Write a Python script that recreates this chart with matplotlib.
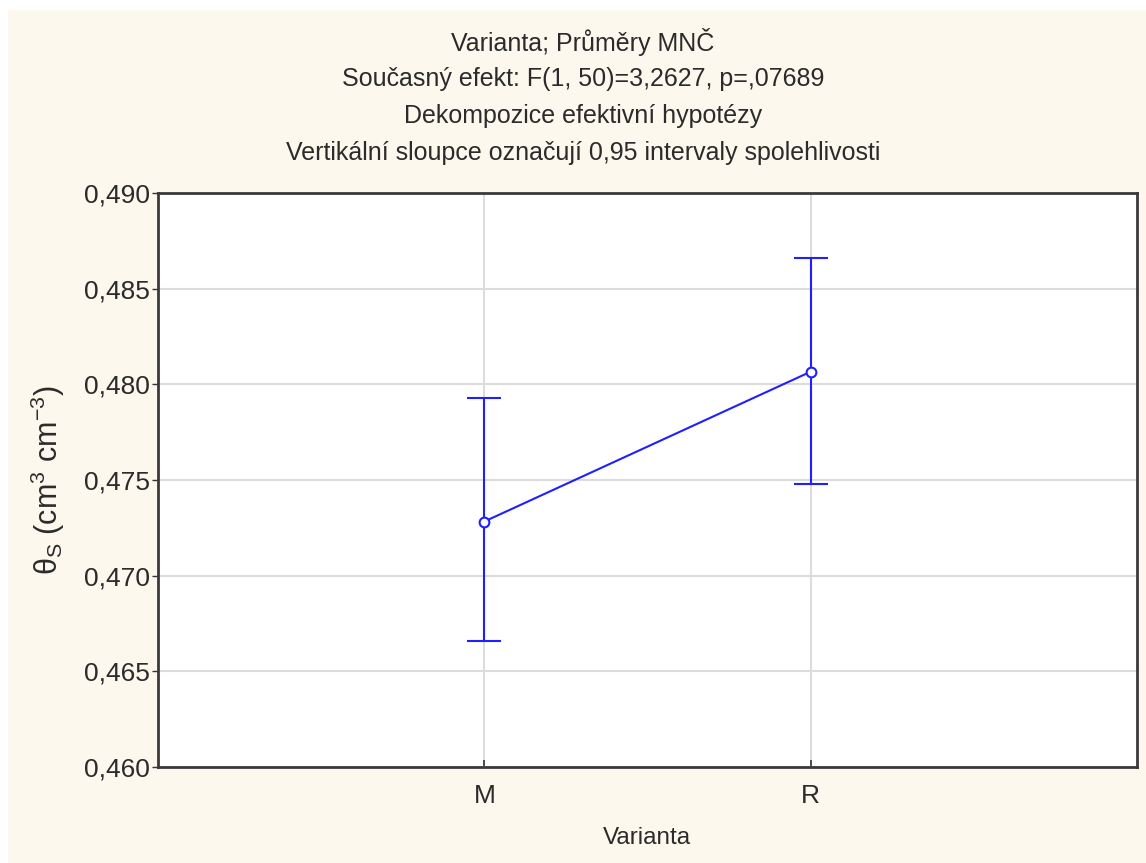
import matplotlib
matplotlib.use("Agg")
import matplotlib.pyplot as plt
from matplotlib.patches import Rectangle

# group means with 0.95 confidence limits
categories = ["M", "R"]
means = [0.47283, 0.48066]
ci_low = [0.46657, 0.47477]
ci_high = [0.47930, 0.48661]

yticks = [0.460, 0.465, 0.470, 0.475, 0.480, 0.485, 0.490]
title_lines = [
    "Varianta; Průměry MNČ",
    "Současný efekt: F(1, 50)=3,2627, p=,07689",
    "Dekompozice efektivní hypotézy",
    "Vertikální sloupce označují 0,95 intervaly spolehlivosti",
]

plt.rcParams["font.family"] = ["Liberation Sans", "DejaVu Sans"]
plt.rcParams["mathtext.default"] = "regular"
TEXT = "#2b2b2b"

W, H = 1146, 863
fig = plt.figure(figsize=(W / 100, H / 100), dpi=100, facecolor="white")
# cream panel behind the whole chart
fig.patches.append(Rectangle((8 / W, 0), 1 - 8 / W, 1 - 10 / H,
                             transform=fig.transFigure, facecolor="#fdf8ee",
                             edgecolor="none", zorder=-10))

ax = fig.add_axes([158 / W, 1 - 767 / H, (1137 - 158) / W, (767 - 193) / H])
ax.set_facecolor("white")

x = list(range(1, len(categories) + 1))
yerr = [[m - lo for m, lo in zip(means, ci_low)],
        [hi - m for m, hi in zip(means, ci_high)]]
ax.errorbar(x, means, yerr=yerr, color="#1f1fff", lw=1.5, elinewidth=1.5,
            capsize=12, capthick=1.5, marker="o", markersize=7,
            markerfacecolor="white", markeredgecolor="#1f1fff", markeredgewidth=1.5,
            zorder=3)

ax.set_xlim(0, len(categories) + 1)
ax.set_ylim(yticks[0], yticks[-1])
ax.set_xticks(x)
ax.set_xticklabels(categories, fontsize=19)
ax.set_yticks(yticks)
ax.set_yticklabels([f"{t:.3f}".replace(".", ",") for t in yticks], fontsize=19)
ax.tick_params(axis="y", direction="out", length=4, width=1, colors="#333333",
               labelcolor=TEXT, pad=2)
ax.tick_params(axis="x", direction="in", length=5, width=1.2, colors="#333333",
               labelcolor=TEXT, pad=12)
ax.grid(True, color="#dcdcdc", lw=1.5, zorder=0)
ax.set_axisbelow(True)
for s in ax.spines.values():
    s.set_color("#3a3a3a")
    s.set_linewidth(2)

# axis titles
fig.text(647 / W, 1 - 838 / H, "Varianta", ha="center", va="center",
         fontsize=17.5, color=TEXT)
fig.text(48 / W, 1 - 480 / H, "θ$_S$ (cm$^3$ cm$^{-3}$)", ha="center", va="center",
         rotation=90, fontsize=22, color=TEXT)

for i, line in enumerate(title_lines):
    fig.text(0.5 + 10 / W, 1 - (42 + 37 * i) / H, line, ha="center", va="center",
             fontsize=18, color=TEXT)

fig.savefig("out.png", dpi=100, facecolor=fig.get_facecolor())
